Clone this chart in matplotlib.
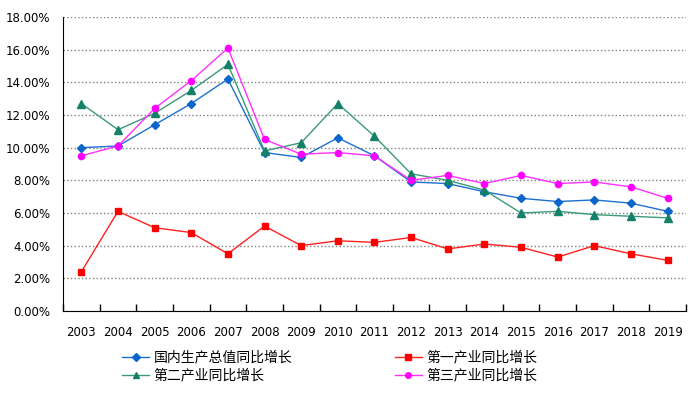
import numpy as np
import matplotlib.pyplot as plt
from matplotlib.ticker import FuncFormatter

plt.rcParams['font.family'] = ['DejaVu Sans', 'Noto Sans CJK SC']

years = ['2003', '2004', '2005', '2006', '2007', '2008', '2009', '2010', '2011',
         '2012', '2013', '2014', '2015', '2016', '2017', '2018', '2019']

# 同比增长 (%)
gdp = [10.0, 10.1, 11.4, 12.7, 14.2, 9.7, 9.4, 10.6, 9.5, 7.9, 7.8, 7.3, 6.9, 6.7, 6.8, 6.6, 6.1]
primary = [2.4, 6.1, 5.1, 4.8, 3.5, 5.2, 4.0, 4.3, 4.2, 4.5, 3.8, 4.1, 3.9, 3.3, 4.0, 3.5, 3.1]
secondary = [12.7, 11.1, 12.1, 13.5, 15.1, 9.8, 10.3, 12.7, 10.7, 8.4, 8.0, 7.4, 6.0, 6.1, 5.9, 5.8, 5.7]
tertiary = [9.5, 10.1, 12.4, 14.1, 16.1, 10.5, 9.6, 9.7, 9.5, 8.0, 8.3, 7.8, 8.3, 7.8, 7.9, 7.6, 6.9]

labels = ['国内生产总值同比增长', '第一产业同比增长', '第二产业同比增长', '第三产业同比增长']

fig = plt.figure(figsize=(6.88, 3.95), dpi=100)
ax = fig.add_axes([0.0916, 0.2127, 0.9054, 0.7443])

x = np.arange(len(years))
l1, = ax.plot(x, gdp, color='#1f6fd0', lw=1, marker='D', ms=4, mfc='#0a66cc', mec='#0a66cc')
l2, = ax.plot(x, primary, color='#ff2020', lw=1, marker='s', ms=5, mfc='#ff0000', mec='#ff0000')
l3, = ax.plot(x, secondary, color='#3a9a78', lw=1, marker='^', ms=5.5, mfc='#15806a', mec='#15806a')
l4, = ax.plot(x, tertiary, color='#ff30ff', lw=1, marker='o', ms=4.5, mfc='#ff00ff', mec='#ff00ff')

ax.set_xlim(-0.5, len(years) - 0.5)
ax.set_ylim(0, 18)
ax.set_yticks(np.arange(0, 19, 2))
ax.yaxis.set_major_formatter(FuncFormatter(lambda v, p: f'{v:.2f}%'))
ax.tick_params(axis='y', length=0, pad=9, labelsize=8.5)

ax.set_xticks(np.arange(-0.5, len(years), 1))
ax.set_xticklabels([])
ax.tick_params(axis='x', which='major', direction='in', length=5, width=1)
ax.set_xticks(x, minor=True)
ax.set_xticklabels(years, minor=True)
ax.tick_params(axis='x', which='minor', length=0, pad=11, labelsize=8.5)

ax.grid(axis='y', linestyle=':', color='#808080', lw=1)
ax.set_axisbelow(True)
for s in ['top', 'right']:
    ax.spines[s].set_visible(False)
ax.spines['left'].set_color('black')
ax.spines['bottom'].set_color('black')

# legend fills column by column: put items so rows read GDP / 第一, 第二 / 第三
fig.legend([l1, l3, l2, l4], [labels[0], labels[2], labels[1], labels[3]],
           ncol=2, loc='upper left', bbox_to_anchor=(0.178, 0.113),
           frameon=False, borderpad=0, borderaxespad=0,
           prop={'family': 'Noto Sans CJK SC', 'size': 10},
           handlelength=1.9, handletextpad=0.35, columnspacing=7.4,
           labelspacing=0.3, markerscale=0.9)

fig.savefig('out.png', dpi=100)
